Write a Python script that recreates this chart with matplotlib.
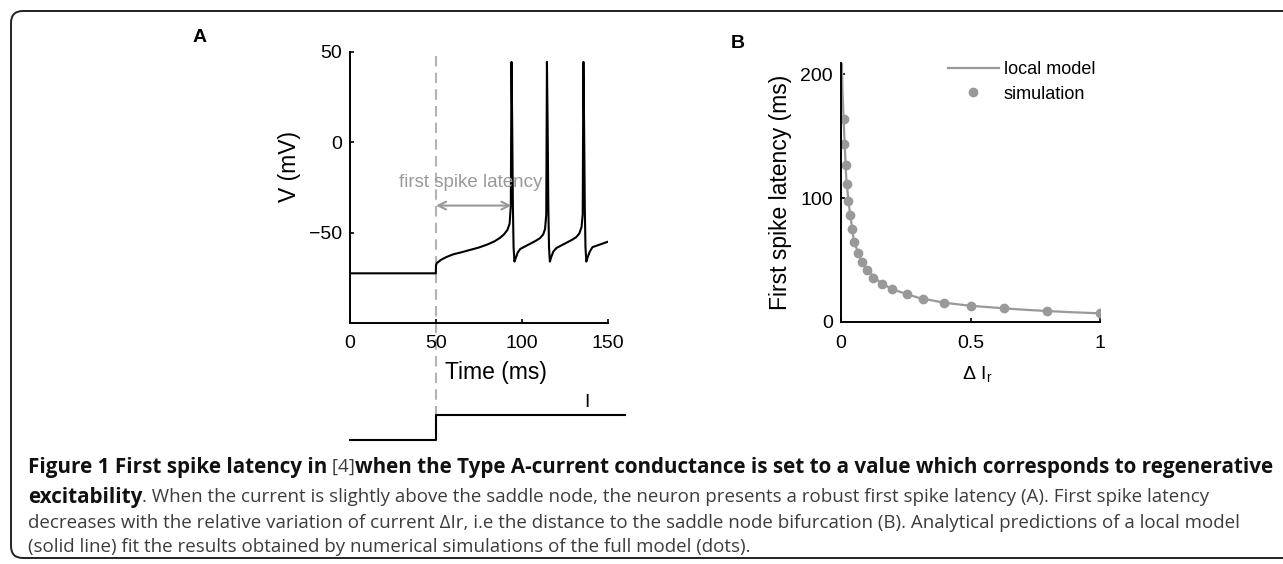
import numpy as np
import matplotlib
matplotlib.use("Agg")
import matplotlib.pyplot as plt
from matplotlib.patches import FancyBboxPatch
from matplotlib.transforms import IdentityTransform

plt.rcParams['font.family'] = ['Liberation Sans', 'DejaVu Sans']
plt.rcParams['mathtext.fontset'] = 'custom'
plt.rcParams['mathtext.rm'] = 'Liberation Sans'

# ---- data ----
# panel A: membrane potential (ms, mV)
volt_t = [0, 49.9, 50.0, 50.5, 53, 56, 60, 65, 70, 75, 80, 84, 87, 89.5, 91.5, 92.8,
          93.5, 93.9, 94.3, 94.7, 95.1, 95.6, 96.4, 97.5, 99, 102, 105, 108, 110.5,
          112.3, 113.4, 114.1, 114.5, 114.9, 115.3, 115.7, 116.2, 117, 118.2, 120, 123,
          126, 129, 131.5, 133.3, 134.6, 135.3, 135.7, 136.1, 136.5, 136.9, 137.4,
          138.2, 139.4, 141, 144, 147, 150]
volt_v = [-72.5, -72.5, -68, -66.8, -65, -63.5, -62, -60.8, -59.5, -58.2, -56.5, -54.8,
          -53, -51, -48.5, -45, -35, 44.5, 10, -35, -58, -66, -64, -61, -59, -57.5, -56,
          -54.5, -53, -51, -48, -40, 44.5, 10, -35, -58, -66, -63.5, -60.5, -58.5, -57,
          -55.5, -54, -52.5, -50.5, -47, -40, 44.5, 10, -35, -58, -66, -63.5, -60.5,
          -58, -57, -56, -55]
stim_onset = 50
first_spike = 93.9
# injected current step (arbitrary units)
cur_t = [0, 50, 50, 160]
cur_i = [0, 0, 1, 1]

# panel B: first spike latency vs relative current
sim_di = [0.010, 0.013, 0.018, 0.022, 0.028, 0.035, 0.042, 0.050, 0.064, 0.080, 0.102,
          0.125, 0.160, 0.198, 0.254, 0.318, 0.398, 0.502, 0.631, 0.794, 1.0]
sim_lat = [163.6, 144, 126.7, 111.4, 98, 86, 74.7, 64.8, 56, 48.8, 42, 35.9, 30.5, 26.3,
           22.3, 18.7, 15.5, 13.1, 11, 8.8, 7]
model_di = [0.003, 0.006, 0.010, 0.020, 0.030, 0.050, 0.075, 0.10, 0.15, 0.20, 0.30,
            0.40, 0.50, 0.60, 0.70, 0.80, 0.90, 1.0]
model_lat = [212, 185, 163, 117, 95, 65, 51, 42.5, 32, 26.2, 19.5, 15.5, 13.1, 11.5,
             10, 8.8, 7.8, 7]

W, H = 1283, 564
fig = plt.figure(figsize=(W / 100, H / 100), dpi=100)

def px_axes(x0, y0, x1, y1):
    # pixel box (top-left origin) -> figure fractions
    return fig.add_axes([x0 / W, (H - y1) / H, (x1 - x0) / W, (y1 - y0) / H])

# frame
frame = FancyBboxPatch((11, 6), 1300, 547, boxstyle="round,pad=0,rounding_size=12",
                       transform=IdentityTransform(), fill=False, ec='#222222', lw=1.4)
fig.add_artist(frame)

tick_fs = 14
label_fs = 16.5

# ---------------- panel A ----------------
axA = px_axes(350, 52, 608, 323)
axA.plot(volt_t, volt_v, color='black', lw=1.5)
axA.set_xlim(0, 150)
axA.set_ylim(-100, 50)
axA.set_xticks([0, 50, 100, 150])
axA.set_yticks([-50, 0, 50])
axA.set_yticklabels(['\u221250', '0', '50'])
for s in ['top', 'right']:
    axA.spines[s].set_visible(False)
for s in ['left', 'bottom']:
    axA.spines[s].set_linewidth(1.4)
axA.tick_params(direction='in', length=3, width=1.2, labelsize=tick_fs, pad=6)
axA.tick_params(axis='x', pad=9)
axA.text(-0.233, 0.576, 'V (mV)', transform=axA.transAxes, rotation=90,
         ha='center', va='center', fontsize=label_fs)
axA.text(0.566, -0.181, 'Time (ms)', transform=axA.transAxes,
         ha='center', va='center', fontsize=label_fs)

# current step below
axI = px_axes(350, 415, 608, 440)
axI.plot(cur_t, cur_i, color='black', lw=1.5, clip_on=False)
axI.set_xlim(0, 150)
axI.set_ylim(0, 1)
axI.axis('off')
axI.text(138, 1.5, 'I', ha='center', va='center', fontsize=tick_fs)

# dashed stimulus line from top of A down to the current step
fig.canvas.draw()
y_bot = axA.transData.inverted().transform(axI.transData.transform((stim_onset, 0)))[1]
axA.plot([stim_onset, stim_onset], [48, y_bot], color='#b3b3b3', lw=1.5,
         ls=(0, (5, 3)), clip_on=False, zorder=0)

axA.annotate('', xy=(first_spike, -35), xytext=(stim_onset, -35),
             arrowprops=dict(arrowstyle='<->', color='#999999', lw=1.5,
                             mutation_scale=14, shrinkA=0, shrinkB=0))
axA.text(70, -22.5, 'first spike latency', color='#999999', ha='center',
         va='center', fontsize=13.5)

fig.text(200 / W, 1 - 38 / H, 'A', fontsize=14, fontweight='bold', ha='center', va='center')
fig.text(738 / W, 1 - 43 / H, 'B', fontsize=14, fontweight='bold', ha='center', va='center')

# ---------------- panel B ----------------
axB = px_axes(841, 63, 1100, 322)
ln, = axB.plot(model_di, model_lat, color='#999999', lw=1.6, label='local model')
dots, = axB.plot(sim_di, sim_lat, 'o', color='#999999', ms=6, label='simulation')
axB.set_xlim(0, 1)
axB.set_ylim(0, 209)
axB.set_xticks([0, 0.5, 1])
axB.set_xticklabels(['0', '0.5', '1'])
axB.set_yticks([0, 100, 200])
for s in ['top', 'right']:
    axB.spines[s].set_visible(False)
for s in ['left', 'bottom']:
    axB.spines[s].set_linewidth(1.4)
axB.tick_params(direction='in', length=3, width=1.2, labelsize=tick_fs, pad=6)
axB.tick_params(axis='x', pad=9)
axB.set_ylabel('First spike latency (ms)', fontsize=label_fs, labelpad=6)
axB.text(0.525, -0.205, 'Δ I$_\\mathrm{r}$', transform=axB.transAxes,
         ha='center', va='center', fontsize=tick_fs)
axB.legend(handles=[ln, dots], loc='upper left', bbox_to_anchor=(0.413, 1.007),
           frameon=False, fontsize=13, handlelength=2.8, handletextpad=0.3,
           labelspacing=0.42, borderpad=0, borderaxespad=0)

# ---------------- caption ----------------
cap_lines = [
    [("Figure 1 First spike latency in", 'bold'), (" [4]", 'normal'),
     ("when the Type A-current conductance is set to a value which corresponds to regenerative", 'bold')],
    [("excitability", 'bold'),
     (". When the current is slightly above the saddle node, the neuron presents a robust first spike latency (A). First spike latency", 'normal')],
    [("decreases with the relative variation of current ΔIr, i.e the distance to the saddle node bifurcation (B). Analytical predictions of a local model", 'normal')],
    [("(solid line) fit the results obtained by numerical simulations of the full model (dots).", 'normal')],
]
cap_y = [467, 497, 523, 547]
cap_x0 = 28
renderer = fig.canvas.get_renderer()

def draw_line(parts, y, sizes):
    x = cap_x0
    arts = []
    for s, w in parts:
        col = '#111111' if w == 'bold' else '#3c3c3c'
        t = fig.text(x / W, 1 - y / H, s, fontsize=sizes[w], fontweight=w, color=col,
                     family=['Open Sans', 'DejaVu Sans'], va='center', ha='left')
        arts.append(t)
        x += t.get_window_extent(renderer).width
    return arts, x

def fit_size(parts, y, xe, sizes, key):
    arts, xend = draw_line(parts, y, sizes)
    for a in arts:
        a.remove()
    return sizes[key] * (xe - cap_x0) / (xend - cap_x0)

sizes = {'bold': 12, 'normal': 12}
sizes['normal'] = fit_size(cap_lines[2], cap_y[2], 1233, sizes, 'normal')
sizes['bold'] = fit_size([p for p in cap_lines[0] if p[1] == 'bold'], cap_y[0],
                         1275 - 28, sizes, 'bold')
for parts, y in zip(cap_lines, cap_y):
    draw_line(parts, y, sizes)

fig.savefig('out.png', dpi=100)
